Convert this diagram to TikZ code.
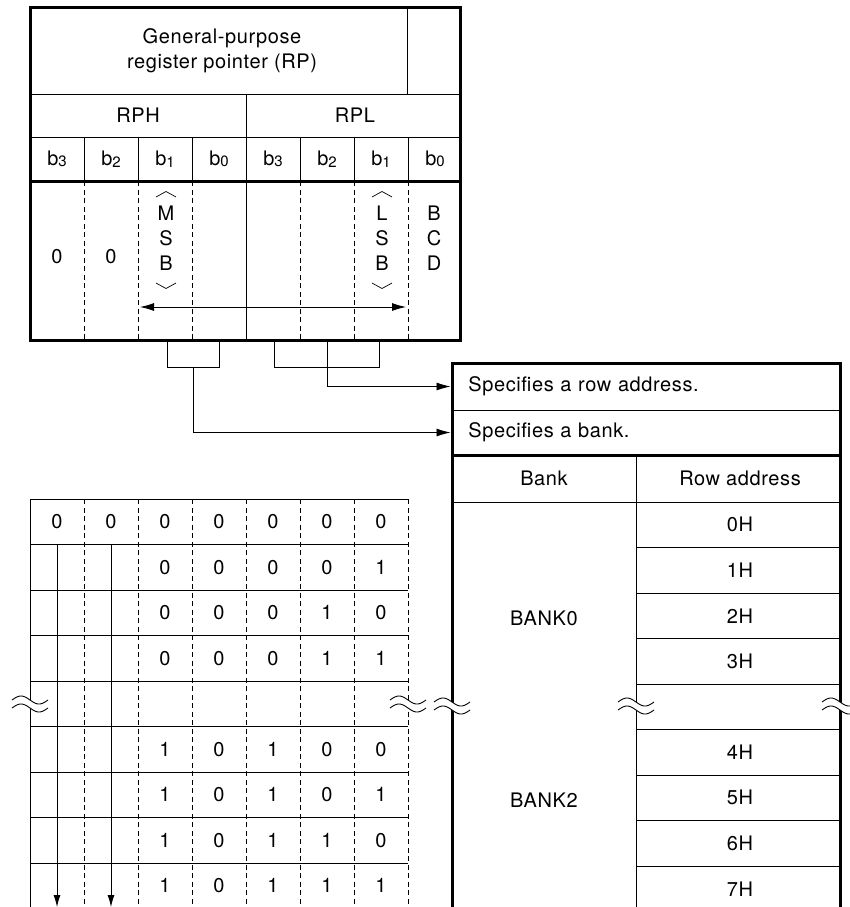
\documentclass[tikz,border=0pt]{standalone}
\usepackage{fontspec}
\setmainfont{TeX Gyre Heros}[LetterSpace=3]
\usetikzlibrary{arrows.meta,positioning}

\newcommand{\bitno}[1]{\raisebox{-1.5pt}{\fontsize{15}{15}\selectfont #1}}

\tikzset{
  lbl/.style={inner sep=0pt,align=center,font=\fontsize{20}{25}\selectfont},
  spec/.style={lbl,anchor=west,inner xsep=16pt,text width=356pt,align=left},
  heavy/.style={line width=3pt},
  dashrule/.style={line width=0.9pt,dash pattern=on 5pt off 3.5pt},
  pics/brk/.style={code={
    \fill[white] plot[domain=-18:18,samples=31,smooth] (\x,{-4+4*sin(10*\x)})
      -- plot[domain=18:-18,samples=31,smooth] (\x,{4+4*sin(10*\x)}) -- cycle;
    \draw plot[domain=-18:18,samples=31,smooth] (\x,{-4+4*sin(10*\x)});
    \draw plot[domain=-18:18,samples=31,smooth] (\x,{4+4*sin(10*\x)});
  }}
}

\begin{document}
\begin{tikzpicture}[x=1pt,y=-1pt,line width=0.9pt,>={Latex[length=14pt,width=8pt]}]
\useasboundingbox (0,0) rectangle (850,907);

% Register pointer
\draw[heavy] (30,8) rectangle (460,340);
\draw (30,94) -- (460,94);
\draw (30,137) -- (460,137);
\draw[heavy] (30,181) -- (460,181);
\draw (407,8) -- (407,94);
\draw (246,94) -- (246,340);
\foreach \px in {84,138,192,300,354,408} {
  \draw (\px,137) -- (\px,181);
  \draw[dashrule] (\px,181) -- (\px,340);
}
\node[lbl] (rp) at (222,51) {General-purpose\\register pointer (RP)};
\node[lbl] (rph) at (138,115.5) {RPH};
\node[lbl] (rpl) at (355,115.5) {RPL};
\foreach \b [count=\i] in {3,2,1,0,3,2,1,0}
  \node[lbl] (hb\i) at ({3+54*\i},159) {b\bitno{\b}};
\node[lbl] (z1) at (57,257) {0};
\node[lbl] (z2) at (111,257) {0};
\node[lbl] (msb) at (166,238.5) {M\\S\\B};
\node[lbl] (lsb) at (382,238.5) {L\\S\\B};
\node[lbl] (bcd) at (434,238.5) {B\\C\\D};
\foreach \px in {166,382} {
  \draw[line width=0.7pt] ({\px-10},197) -- (\px,191.5) -- ({\px+10},197);
  \draw[line width=0.7pt] ({\px-10},283) -- (\px,288.5) -- ({\px+10},283);
}
\coordinate (lft) at (140,307);
\coordinate (rgt) at (406,307);
\draw[<->] (lft) -- (rgt);

% Right table
\draw[heavy] (452,915) -- (452,363) -- (840,363) -- (840,915);
\draw (452,410) -- (840,410);
\draw[heavy] (452,455) -- (840,455);
\draw (452,502) -- (840,502);
\draw (636,455) -- (636,915);
\foreach \k in {1,...,8}
  \draw (636,{502+45.5*\k}) -- (840,{502+45.5*\k});
\node[spec] (rowspec) at (452,386.5) {Specifies a row address.};
\node[spec] (bankspec) at (452,432.5) {Specifies a bank.};
\node[lbl] (bankhd) at (544,478.5) {Bank};
\node[lbl] (rowhd) at (740,478.5) {Row address};
\node[lbl] (bank0) at (544,618) {BANK0};
\node[lbl] (bank2) at (544,800) {BANK2};
\foreach \a/\k in {0/0,1/1,2/2,3/3,4/5,5/6,6/7,7/8}
  \node[lbl] (ra\a) at (740,{524.75+45.5*\k}) {\a H};

% Bit groups to the table
\coordinate (bk1) at (167,340);
\coordinate (bk2) at (219,340);
\coordinate (bkm) at (193,367);
\coordinate (rw1) at (274,340);
\coordinate (rw2) at (379,340);
\coordinate (rwm) at (327,340);
\draw (bk1) -- ++(0,27) -| (bk2);
\draw (rw1) -- ++(0,27) -| (rw2);
\draw[->,shorten >=1.5pt] (bkm) |- (bankspec.west);
\draw[->,shorten >=1.5pt] (rwm) |- (rowspec.west);

% Left table
\draw (30,915) -- (30,499) -- (408,499);
\foreach \k in {1,...,8}
  \draw (30,{499+45.5*\k}) -- (408,{499+45.5*\k});
\foreach \px in {84,138,...,408}
  \draw[dashrule] (\px,499) -- (\px,915);
\foreach \d [count=\c] in {0,0,0,0,0,0,0}
  \node[lbl] (t0-\c) at ({3+54*\c},521.75) {\d};
\foreach \r/\bits in {1/{0,0,0,0,1},2/{0,0,0,1,0},3/{0,0,0,1,1},5/{1,0,1,0,0},6/{1,0,1,0,1},7/{1,0,1,1,0},8/{1,0,1,1,1}}
  \foreach \d [count=\c from 3] in \bits
    \node[lbl] (t\r-\c) at ({3+54*\c},{521.75+45.5*\r}) {\d};
\coordinate (dn1) at (57,544.5);
\coordinate (dn1e) at (57,907);
\coordinate (dn2) at (111,544.5);
\coordinate (dn2e) at (111,907);
\draw[-{Latex[length=12pt,width=7pt]}] (dn1) -- (dn1e);
\draw[-{Latex[length=12pt,width=7pt]}] (dn2) -- (dn2e);

% Break marks
\foreach \px/\py in {30/704,408/704,452/706,636/706,840/706}
  \pic at (\px,\py) {brk};
\end{tikzpicture}
\end{document}
